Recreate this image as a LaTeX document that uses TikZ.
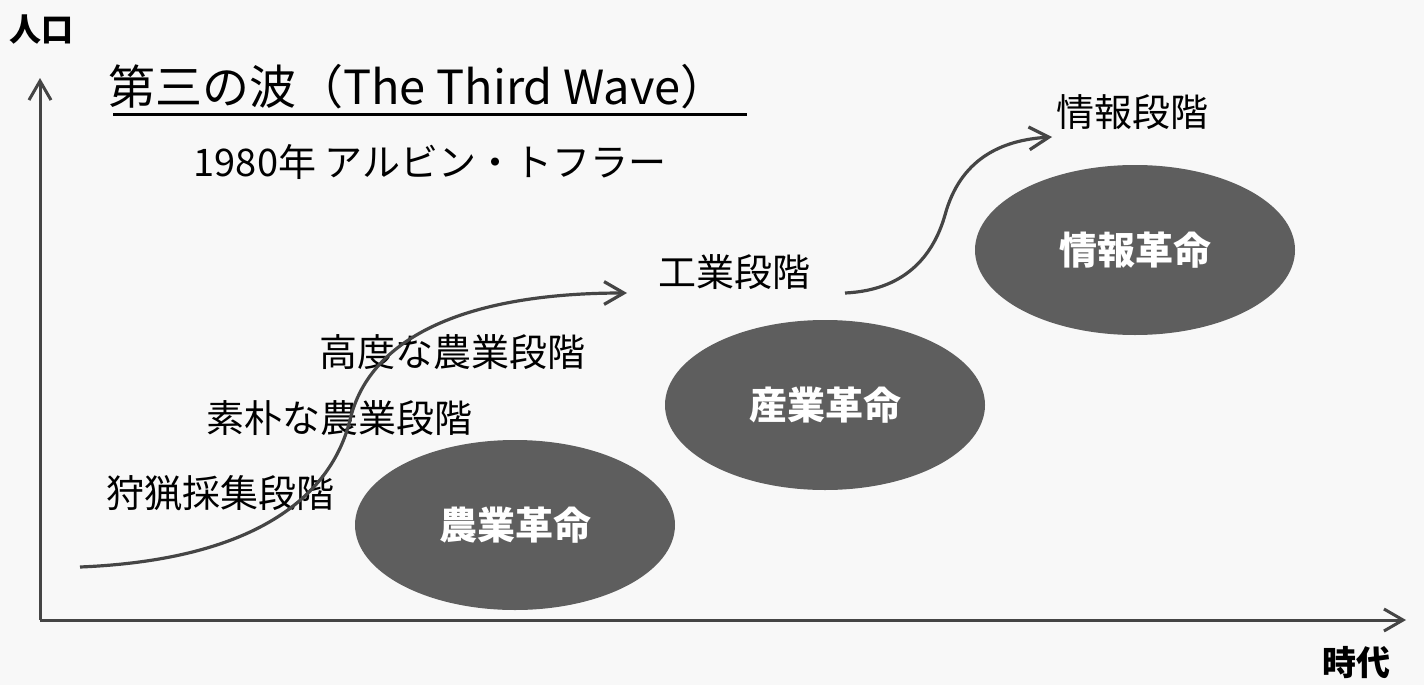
\documentclass[tikz,border=0pt]{standalone}
\usepackage{fontspec}
\setmainfont{Noto Sans CJK JP}
\usepackage{tikz}
\usetikzlibrary{positioning,arrows.meta,shapes.geometric}
\definecolor{paper}{HTML}{F8F8F8}
\definecolor{inkgray}{HTML}{454545}
\definecolor{revgray}{HTML}{5E5E5E}

\begin{document}
\begin{tikzpicture}[
    x = 0.5pt, y = -0.5pt,
    stage/.style = {font=\fontsize{19}{19}\selectfont, text=black},
    rev/.style = {ellipse, fill=revgray, minimum width=160pt, minimum height=85pt, inner sep=0pt, text=white, font=\fontsize{19}{19}\selectfont\bfseries},
    axis/.style = {draw=inkgray, line width=1.5pt},
    wave/.style = {draw=inkgray, line width=1.6pt},
    > = {Straight Barb[angle=60:5pt 4]}
]
\fill[paper] (0,0) rectangle (1424,685);
\useasboundingbox (0,0) rectangle (1424,685);

% axes
\coordinate (O) at (40,620);
\coordinate (ytop) at (40,78);
\coordinate (xend) at (1406,620);
\draw[axis,->] (O) to (ytop);
\draw[axis,->] (O) to (xend);
\node (pop) [font=\fontsize{16}{16}\selectfont\bfseries] at (42,30) {人口};
\node (era) [font=\fontsize{17}{17}\selectfont\bfseries] at (1356,663) {時代};

% title
\node (title) [font=\fontsize{23.5}{23.5}\selectfont] at (418,87) {第三の波（The Third Wave）};
\draw[line width=1.5pt] (113,114) -- (747,114);
\node (toffler) [font=\fontsize{19}{19}\selectfont] at (430,162) {1980年 アルビン・トフラー};

% revolutions
\node (agri) [rev] at (515,525) {農業革命};
\node (ind)  [rev] at (825,405) {産業革命};
\node (info) [rev] at (1135,250) {情報革命};

% stages
\node (hunt)   [stage] at (220,493) {狩猟採集段階};
\node (simple) [stage] at (339,418) {素朴な農業段階};
\node (adv)    [stage] at (452,352) {高度な農業段階};
\node (indst)  [stage] at (734,272) {工業段階};
\node (infost) [stage] at (1132,112) {情報段階};

% waves
\coordinate (w1s) at (80,567);
\coordinate (w1e) at (627,293);
\coordinate (w2s) at (845,293);
\coordinate (w2e) at (1052,137);
\draw[wave,->] (w1s) .. controls (250,560) and (330,500) .. (350,420)
    .. controls (370,335) and (470,293) .. (w1e);
\draw[wave,->] (w2s) .. controls (910,290) and (935,250) .. (945,215)
    .. controls (960,160) and (1000,140) .. (w2e);
\end{tikzpicture}
\end{document}
